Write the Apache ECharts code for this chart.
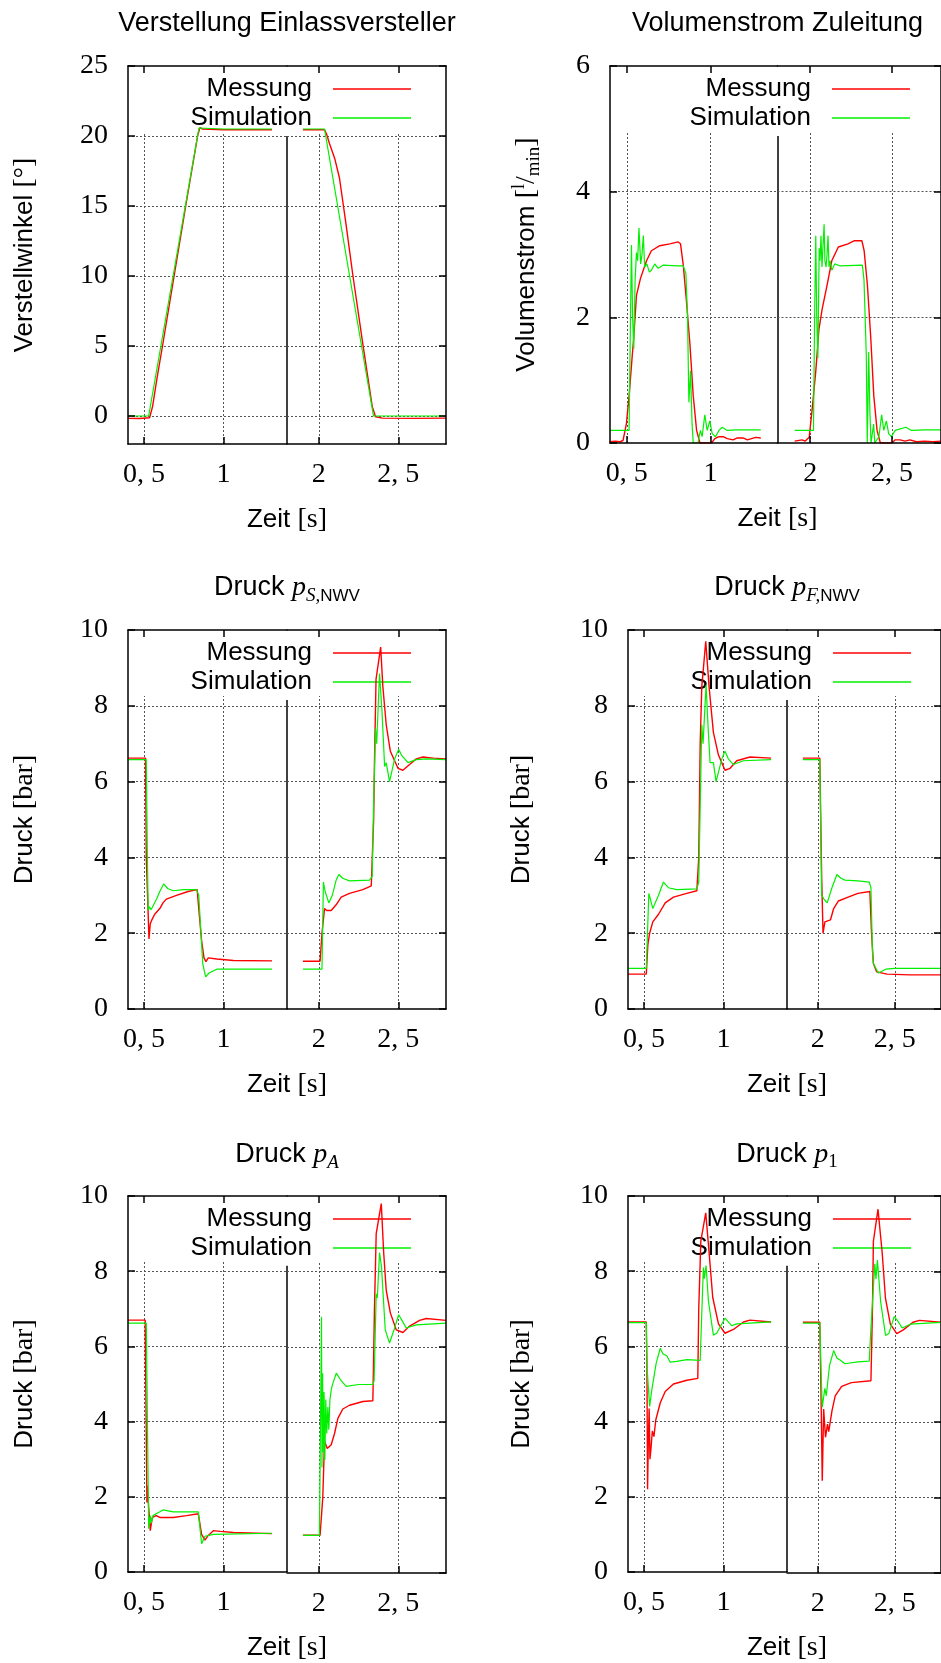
<!DOCTYPE html>
<html>
<head>
<meta charset="utf-8">
<title>Einlassversteller – Messung und Simulation</title>
<script src="https://cdn.jsdelivr.net/npm/echarts@6/dist/echarts.min.js"></script>
<style>
  html, body { margin: 0; padding: 0; background: #fff; }
  #chart { width: 941px; height: 1663px; }
</style>
</head>
<body>
<div id="chart"></div>
<script>
// ---------- tick values ----------
const xTicksLeft = [0.5, 1];
const xTicksRight = [2, 2.5];
const angleTicks = [0, 5, 10, 15, 20, 25];
const flowTicks = [0, 2, 4, 6];
const pressureTicks = [0, 2, 4, 6, 8, 10];

// ---------- measured / simulated curves, [Zeit s, Wert] ----------
const angleMeasured = [
  [0.40,-0.17],[0.47,-0.18],[0.536,-0.12],[0.555,0.7],[0.582,2.67],[0.617,5.0],[0.69,10.0],[0.763,15.0],
  [0.838,20.0],[0.852,20.6],[0.87,20.5],[1.0,20.45],[1.306,20.45],
  [1.90,20.45],[2.036,20.45],[2.05,20.1],[2.067,19.46],[2.10,18.4],[2.13,17.0],[2.17,13.8],[2.214,10.07],
  [2.277,5.14],[2.336,0.69],[2.357,-0.05],[2.40,-0.15],[2.60,-0.17],[2.80,-0.15]
];
const angleSimulated = [
  [0.40,0.0],[0.53,0.0],[0.846,20.57],[1.0,20.5],[1.306,20.5],
  [1.90,20.5],[2.036,20.5],[2.344,0.0],[2.80,0.0]
];

const flowMeasured = [
  [0.40,0.02],[0.43,0.03],[0.46,0.02],[0.478,0.04],[0.498,0.31],[0.514,0.75],[0.532,1.36],[0.542,1.69],
  [0.558,2.35],[0.582,2.62],[0.618,2.9],[0.647,3.06],[0.697,3.14],[0.757,3.17],[0.807,3.2],[0.821,3.17],
  [0.837,2.84],[0.857,2.24],[0.877,1.58],[0.897,0.75],[0.917,0.2],[0.937,0.0],[1.006,0.0],[1.026,0.07],
  [1.05,0.1],[1.076,0.1],[1.10,0.07],[1.135,0.05],[1.16,0.08],[1.195,0.08],[1.22,0.05],[1.245,0.07],
  [1.27,0.09],[1.30,0.08],
  [1.905,0.03],[1.95,0.05],[1.97,0.03],[1.994,0.09],[2.014,0.59],[2.034,1.14],[2.053,1.8],[2.073,2.13],
  [2.103,2.51],[2.132,2.9],[2.172,3.12],[2.231,3.17],[2.271,3.22],[2.316,3.22],[2.33,3.06],[2.35,2.51],
  [2.37,1.69],[2.389,0.75],[2.409,0.2],[2.429,0.0],[2.50,0.0],[2.52,0.05],[2.55,0.05],[2.58,0.03],
  [2.61,0.05],[2.65,0.02],[2.70,0.03],[2.75,0.02],[2.80,0.03]
];
const flowSimulated = [
  [0.40,0.2],[0.514,0.2],[0.52,1.5],[0.528,3.15],[0.535,2.0],[0.542,1.5],[0.55,2.6],[0.558,3.03],
  [0.565,2.9],[0.573,3.42],[0.583,2.85],[0.591,3.0],[0.599,3.3],[0.607,2.8],[0.62,2.85],[0.635,2.72],
  [0.647,2.75],[0.667,2.85],[0.687,2.78],[0.717,2.83],[0.80,2.82],[0.837,2.82],[0.853,2.7],[0.863,2.0],
  [0.871,0.65],[0.881,1.15],[0.89,0.3],[0.897,0.0],[0.925,0.0],[0.94,0.2],[0.95,0.1],[0.966,0.45],
  [0.98,0.2],[0.996,0.35],[1.01,0.15],[1.03,0.1],[1.05,0.2],[1.07,0.25],[1.10,0.2],[1.15,0.21],[1.30,0.21],
  [1.905,0.2],[2.02,0.2],[2.027,2.0],[2.034,3.3],[2.04,2.0],[2.047,1.35],[2.055,3.1],[2.06,2.9],
  [2.066,3.3],[2.072,2.8],[2.085,3.48],[2.09,2.9],[2.097,2.8],[2.103,3.0],[2.109,3.3],[2.115,2.8],
  [2.122,2.9],[2.132,2.75],[2.15,2.85],[2.18,2.82],[2.319,2.83],[2.329,2.6],[2.343,1.4],[2.349,0.0],
  [2.358,1.45],[2.365,0.5],[2.372,0.0],[2.388,0.3],[2.395,0.0],[2.42,0.1],[2.437,0.45],[2.45,0.2],
  [2.466,0.35],[2.48,0.15],[2.496,0.1],[2.52,0.2],[2.585,0.25],[2.62,0.2],[2.70,0.21],[2.80,0.21]
];

const pSMeasured = [
  [0.40,6.62],[0.51,6.62],[0.515,4.0],[0.532,1.85],[0.54,2.25],[0.55,2.35],[0.568,2.5],[0.60,2.65],
  [0.62,2.8],[0.641,2.9],[0.705,3.0],[0.778,3.1],[0.835,3.15],[0.848,2.5],[0.863,1.8],[0.878,1.35],
  [0.89,1.25],[0.905,1.35],[0.958,1.32],[1.063,1.28],[1.306,1.27],
  [1.90,1.26],[2.008,1.26],[2.02,2.0],[2.036,2.65],[2.05,2.6],[2.078,2.6],[2.109,2.75],[2.141,2.95],
  [2.193,3.05],[2.277,3.15],[2.33,3.25],[2.345,5.0],[2.351,6.7],[2.36,8.7],[2.372,8.7],[2.389,9.55],
  [2.403,8.5],[2.424,7.5],[2.45,6.8],[2.498,6.35],[2.529,6.3],[2.571,6.45],[2.613,6.6],[2.655,6.65],
  [2.72,6.62],[2.80,6.6]
];
const pSSimulated = [
  [0.40,6.58],[0.515,6.58],[0.522,4.0],[0.527,2.6],[0.535,2.7],[0.545,2.62],[0.557,2.62],[0.58,2.9],
  [0.60,3.1],[0.624,3.3],[0.65,3.18],[0.684,3.12],[0.75,3.15],[0.831,3.15],[0.845,3.0],[0.859,2.0],
  [0.87,1.2],[0.888,0.85],[0.91,0.95],[0.958,1.05],[1.306,1.05],
  [1.90,1.05],[2.02,1.05],[2.029,3.35],[2.04,3.1],[2.063,2.8],[2.085,3.0],[2.109,3.4],[2.126,3.55],
  [2.15,3.45],[2.193,3.38],[2.319,3.4],[2.336,3.5],[2.345,5.5],[2.357,7.4],[2.364,7.0],[2.382,8.85],
  [2.397,7.9],[2.414,6.4],[2.424,6.5],[2.445,6.0],[2.477,6.6],[2.502,6.85],[2.52,6.7],[2.561,6.5],
  [2.613,6.58],[2.676,6.6],[2.80,6.58]
];

const pFMeasured = [
  [0.40,0.92],[0.515,0.92],[0.525,1.7],[0.536,2.0],[0.556,2.3],[0.592,2.5],[0.634,2.8],[0.686,2.95],
  [0.77,3.05],[0.833,3.12],[0.845,4.0],[0.854,7.0],[0.864,8.5],[0.889,9.7],[0.91,8.5],[0.937,7.3],
  [0.969,6.7],[1.01,6.3],[1.042,6.35],[1.084,6.55],[1.167,6.65],[1.30,6.62],
  [1.903,6.62],[2.013,6.62],[2.025,3.5],[2.034,2.0],[2.046,2.3],[2.082,2.35],[2.103,2.65],[2.134,2.85],
  [2.197,2.95],[2.26,3.05],[2.338,3.1],[2.349,2.0],[2.361,1.2],[2.382,0.98],[2.45,0.92],[2.60,0.9],[2.80,0.9]
];
const pFSimulated = [
  [0.40,1.07],[0.515,1.07],[0.531,3.05],[0.541,2.9],[0.556,2.65],[0.592,3.0],[0.623,3.35],[0.654,3.2],
  [0.707,3.15],[0.833,3.17],[0.845,3.35],[0.864,7.5],[0.872,7.0],[0.891,8.55],[0.903,7.5],[0.916,6.5],
  [0.937,6.5],[0.954,6.0],[0.99,6.6],[1.01,6.8],[1.031,6.6],[1.063,6.45],[1.125,6.55],[1.30,6.58],
  [1.903,6.58],[2.013,6.58],[2.025,3.0],[2.034,3.05],[2.04,2.9],[2.061,2.8],[2.092,3.2],[2.124,3.55],
  [2.15,3.45],[2.176,3.4],[2.26,3.38],[2.334,3.35],[2.345,3.2],[2.355,1.5],[2.361,1.2],[2.393,0.95],
  [2.441,1.05],[2.50,1.07],[2.80,1.07]
];

const pAMeasured = [
  [0.40,6.7],[0.508,6.7],[0.51,5.8],[0.519,1.85],[0.521,2.3],[0.54,1.1],[0.553,1.45],[0.578,1.5],
  [0.60,1.45],[0.684,1.45],[0.768,1.5],[0.842,1.55],[0.863,1.0],[0.884,0.85],[0.90,0.95],[0.937,1.1],
  [0.98,1.08],[1.063,1.05],[1.306,1.02],
  [1.90,1.0],[2.008,1.0],[2.025,2.0],[2.036,3.5],[2.053,3.3],[2.078,3.4],[2.099,3.7],[2.12,4.1],
  [2.151,4.35],[2.193,4.45],[2.277,4.55],[2.34,4.57],[2.35,7.0],[2.361,9.0],[2.372,8.95],[2.393,9.8],
  [2.408,8.5],[2.424,7.5],[2.45,6.9],[2.487,6.45],[2.529,6.38],[2.571,6.55],[2.634,6.7],[2.676,6.75],[2.80,6.7]
];
const pASimulated = [
  [0.40,6.62],[0.515,6.62],[0.53,1.15],[0.54,1.5],[0.546,1.3],[0.557,1.5],[0.60,1.6],[0.62,1.65],
  [0.684,1.6],[0.842,1.6],[0.863,0.75],[0.884,0.95],[0.937,1.0],[1.306,1.03],
  [1.90,1.0],[2.004,1.0],[2.017,6.8],[2.02,2.8],[2.024,5.3],[2.028,3.2],[2.033,4.8],[2.038,3.0],
  [2.044,4.6],[2.05,3.7],[2.057,4.4],[2.063,3.8],[2.07,4.6],[2.08,4.9],[2.09,5.05],[2.099,5.0],
  [2.11,5.3],[2.12,5.35],[2.141,5.1],[2.172,4.95],[2.25,5.0],[2.34,5.0],[2.348,5.1],[2.361,7.4],
  [2.368,7.3],[2.382,8.5],[2.395,8.1],[2.403,7.5],[2.418,6.45],[2.429,6.5],[2.445,6.1],[2.477,6.5],
  [2.502,6.85],[2.523,6.7],[2.55,6.5],[2.613,6.58],[2.80,6.63]
];

const p1Measured = [
  [0.40,6.65],[0.515,6.65],[0.519,5.5],[0.523,2.2],[0.528,3.5],[0.533,4.35],[0.538,3.0],[0.544,3.25],
  [0.553,3.75],[0.563,3.6],[0.575,4.05],[0.582,4.0],[0.603,4.5],[0.634,4.8],[0.686,5.0],[0.77,5.1],
  [0.839,5.15],[0.845,7.0],[0.858,8.8],[0.889,9.55],[0.91,8.5],[0.933,7.3],[0.969,6.6],[1.01,6.35],
  [1.063,6.45],[1.126,6.65],[1.167,6.7],[1.30,6.65],
  [1.903,6.65],[2.013,6.65],[2.02,5.0],[2.029,2.45],[2.038,4.35],[2.05,3.6],[2.063,3.95],[2.071,3.75],
  [2.092,4.3],[2.113,4.7],[2.155,4.95],[2.218,5.05],[2.345,5.1],[2.355,7.0],[2.361,8.8],[2.391,9.65],
  [2.418,8.5],[2.439,7.3],[2.471,6.6],[2.513,6.35],[2.555,6.45],[2.618,6.65],[2.66,6.7],[2.80,6.65]
];
const p1Simulated = [
  [0.40,6.63],[0.515,6.63],[0.519,5.5],[0.536,4.4],[0.55,4.85],[0.56,4.8],[0.577,5.55],[0.585,5.5],
  [0.603,5.95],[0.62,5.8],[0.644,5.75],[0.665,5.58],[0.707,5.6],[0.77,5.65],[0.854,5.63],[0.865,7.0],
  [0.874,8.1],[0.88,7.8],[0.891,8.15],[0.906,7.2],[0.937,6.3],[0.958,6.35],[1.01,6.75],[1.02,6.75],
  [1.052,6.55],[1.084,6.6],[1.30,6.65],
  [1.903,6.63],[2.013,6.63],[2.02,5.5],[2.029,4.4],[2.046,4.9],[2.055,4.7],[2.076,5.5],[2.103,5.9],
  [2.124,5.7],[2.145,5.65],[2.176,5.55],[2.26,5.6],[2.334,5.62],[2.345,6.5],[2.37,8.2],[2.378,7.8],
  [2.387,8.3],[2.408,7.2],[2.44,6.3],[2.461,6.35],[2.496,6.8],[2.517,6.7],[2.548,6.5],[2.60,6.6],[2.80,6.65]
];

// ---------- fonts & styles ----------
const SANS = '"Liberation Sans", Arial, sans-serif';
const SERIF = '"Liberation Serif", "Times New Roman", serif';
const INK = '#000';
const RED = '#ff0000';
const GREEN = '#00f000';
const BORDER = { color: INK, width: 1.5 };
const KEY_DEPTH = 66;    // px below the top border kept free for the key
const BREAK_DEPTH = 70;  // px below the top border where the break line ends
const LEFT_RANGE = [0.4, 1.4];
const RIGHT_RANGE = [1.8, 2.8];

const rich = {
  t:  { fontFamily: SANS, fontSize: 26, fontStyle: 'normal', fontWeight: 'normal', color: INK, lineHeight: 34 },
  T:  { fontFamily: SANS, fontSize: 27, fontStyle: 'normal', fontWeight: 'normal', color: INK, lineHeight: 34 },
  m:  { fontFamily: SERIF, fontStyle: 'italic', fontSize: 28, fontWeight: 'normal', color: INK, lineHeight: 34 },
  r:  { fontFamily: SERIF, fontStyle: 'normal', fontSize: 28, fontWeight: 'normal', color: INK, lineHeight: 34 },
  ms: { fontFamily: SERIF, fontStyle: 'italic', fontSize: 19, fontWeight: 'normal', color: INK, lineHeight: 19, verticalAlign: 'bottom' },
  s:  { fontFamily: SANS, fontStyle: 'normal', fontSize: 17, fontWeight: 'normal', color: INK, lineHeight: 19, verticalAlign: 'bottom' },
  rs: { fontFamily: SERIF, fontStyle: 'normal', fontSize: 19, fontWeight: 'normal', color: INK, lineHeight: 19, verticalAlign: 'bottom' },
  up: { fontFamily: SERIF, fontStyle: 'normal', fontSize: 18, fontWeight: 'normal', color: INK, lineHeight: 18, verticalAlign: 'top' }
};

const panels = [
  { title: '{T|Verstellung Einlassversteller}', yName: '{t|Verstellwinkel }{r|[°]}',
    yMin: -2, yMax: 25, yTicks: angleTicks, measured: angleMeasured, simulated: angleSimulated,
    box: { left: 128, top: 66, height: 378, seg: 159 }, nameGap: 86, titleY: 24 },
  { title: '{T|Volumenstrom Zuleitung}', yName: '{t|Volumenstrom }{r|[}{up|l}{r|/}{rs|min}{r|]}',
    yMin: 0, yMax: 6, yTicks: flowTicks, measured: flowMeasured, simulated: flowSimulated,
    box: { left: 610, top: 66, height: 377, seg: 167.5 }, nameGap: 66, titleY: 24 },
  { title: '{T|Druck }{m|p}{ms|S,}{s|NWV}', yName: '{t|Druck }{r|[bar]}',
    yMin: 0, yMax: 10, yTicks: pressureTicks, measured: pSMeasured, simulated: pSSimulated,
    box: { left: 128, top: 630, height: 379, seg: 159 }, nameGap: 86, titleY: 588 },
  { title: '{T|Druck }{m|p}{ms|F,}{s|NWV}', yName: '{t|Druck }{r|[bar]}',
    yMin: 0, yMax: 10, yTicks: pressureTicks, measured: pFMeasured, simulated: pFSimulated,
    box: { left: 628, top: 630, height: 379, seg: 159 }, nameGap: 89, titleY: 588 },
  { title: '{T|Druck }{m|p}{ms|A}', yName: '{t|Druck }{r|[bar]}',
    yMin: 0, yMax: 10, yTicks: pressureTicks, measured: pAMeasured, simulated: pASimulated,
    box: { left: 128, top: 1196, height: 377, seg: 159 }, nameGap: 86, titleY: 1155 },
  { title: '{T|Druck }{m|p}{rs|1}', yName: '{t|Druck }{r|[bar]}',
    yMin: 0, yMax: 10, yTicks: pressureTicks, measured: p1Measured, simulated: p1Simulated,
    box: { left: 628, top: 1196, height: 377, seg: 159 }, nameGap: 89, titleY: 1155 }
];

const tickLabel = v => String(v).replace('.', ', ');
const inRange = (pts, r) => pts.filter(p => p[0] >= r[0] && p[0] <= r[1]);

const option = {
  animation: false,
  backgroundColor: '#fff',
  title: [], grid: [], xAxis: [], yAxis: [], series: [], graphic: []
};

panels.forEach((p, i) => {
  const b = p.box;
  const gL = 2 * i, gR = 2 * i + 1;
  option.grid.push({ left: b.left, top: b.top, width: b.seg, height: b.height, containLabel: false });
  option.grid.push({ left: b.left + b.seg, top: b.top, width: b.seg, height: b.height, containLabel: false });

  const xBase = (grid, range, ticks) => ({
    type: 'value', gridIndex: grid, min: range[0], max: range[1], z: 4,
    axisLine: { show: true, onZero: false, lineStyle: BORDER },
    axisTick: { show: true, inside: true, length: 7, customValues: ticks, lineStyle: BORDER },
    splitLine: { show: false }
  });
  const xStart = option.xAxis.length;
  // bottom axes with labels; the axis name is shifted to the centre of the whole panel
  option.xAxis.push(Object.assign(xBase(gL, LEFT_RANGE, xTicksLeft), {
    position: 'bottom',
    axisLabel: { show: true, customValues: xTicksLeft, formatter: tickLabel, margin: 17,
                 color: INK, fontFamily: SERIF, fontSize: 28 },
    name: '{t|Zeit }{r|[s]}', nameLocation: 'middle', nameGap: 59,
    nameTextStyle: { rich, padding: [0, 0, 0, b.seg] }
  }));
  option.xAxis.push(Object.assign(xBase(gL, LEFT_RANGE, xTicksLeft), { position: 'top', axisLabel: { show: false } }));
  option.xAxis.push(Object.assign(xBase(gR, RIGHT_RANGE, xTicksRight), {
    position: 'bottom',
    axisLabel: { show: true, customValues: xTicksRight, formatter: tickLabel, margin: 17,
                 color: INK, fontFamily: SERIF, fontSize: 28 }
  }));
  option.xAxis.push(Object.assign(xBase(gR, RIGHT_RANGE, xTicksRight), { position: 'top', axisLabel: { show: false } }));

  const yStart = option.yAxis.length;
  option.yAxis.push({
    type: 'value', gridIndex: gL, position: 'left', min: p.yMin, max: p.yMax, z: 4,
    axisLine: { show: true, onZero: false, lineStyle: BORDER },
    axisTick: { show: true, inside: true, length: 7, customValues: p.yTicks, lineStyle: BORDER },
    axisLabel: { show: true, customValues: p.yTicks, margin: 20, color: INK, fontFamily: SERIF, fontSize: 28 },
    splitLine: { show: false },
    name: p.yName, nameLocation: 'middle', nameRotate: 90, nameGap: p.nameGap,
    nameTextStyle: { rich }
  });
  option.yAxis.push({
    type: 'value', gridIndex: gR, position: 'right', min: p.yMin, max: p.yMax, z: 4,
    axisLine: { show: true, onZero: false, lineStyle: BORDER },
    axisTick: { show: true, inside: true, length: 7, customValues: p.yTicks, lineStyle: BORDER },
    axisLabel: { show: false },
    splitLine: { show: false }
  });

  // dotted grid, vertical lines stop below the key; solid break line between the segments
  const span = p.yMax - p.yMin;
  const yCut = p.yMax - span * KEY_DEPTH / b.height;
  const yBreak = p.yMax - span * BREAK_DEPTH / b.height;
  const guides = (xTicks, withBreak) => {
    const d = p.yTicks.filter(v => v > p.yMin && v < p.yMax).map(v => ({ yAxis: v }));
    xTicks.forEach(x => d.push([{ coord: [x, p.yMin] }, { coord: [x, yCut] }]));
    if (withBreak) {
      d.push([{ coord: [LEFT_RANGE[1], p.yMin], lineStyle: { color: INK, type: 'solid', width: 1.5 } },
              { coord: [LEFT_RANGE[1], yBreak] }]);
    }
    return d;
  };
  const guideSeries = (xi, yi, data) => ({
    type: 'line', xAxisIndex: xi, yAxisIndex: yi, data: [], silent: true, z: 1,
    markLine: { silent: true, z: 1, symbol: ['none', 'none'], label: { show: false },
                lineStyle: { color: '#555', type: [2, 2], width: 1 }, data }
  });
  option.series.push(guideSeries(xStart, yStart, guides(xTicksLeft, true)));
  option.series.push(guideSeries(xStart + 2, yStart + 1, guides(xTicksRight, false)));

  // curves
  const curve = (name, pts, xi, yi, color, width, z) => ({
    name, type: 'line', xAxisIndex: xi, yAxisIndex: yi, data: pts, showSymbol: false, symbol: 'none',
    lineStyle: { color, width }, itemStyle: { color }, z, silent: true
  });
  option.series.push(curve('Messung', inRange(p.measured, LEFT_RANGE), xStart, yStart, RED, 1.4, 2));
  option.series.push(curve('Simulation', inRange(p.simulated, LEFT_RANGE), xStart, yStart, GREEN, 1.2, 3));
  option.series.push(curve('Messung', inRange(p.measured, RIGHT_RANGE), xStart + 2, yStart + 1, RED, 1.4, 2));
  option.series.push(curve('Simulation', inRange(p.simulated, RIGHT_RANGE), xStart + 2, yStart + 1, GREEN, 1.2, 3));

  // title
  option.title.push({
    text: p.title, left: b.left + b.seg, top: p.titleY - 17, textAlign: 'center', padding: 0,
    textStyle: { rich, fontFamily: SANS, fontSize: 27, fontWeight: 'normal', color: INK }
  });

  // key
  const R = b.left + 2 * b.seg;
  const keyRow = (label, color, dy) => ([
    { type: 'text', x: R - 134, y: b.top + dy, z: 1, silent: true,
      style: { text: label, align: 'right', verticalAlign: 'middle', fill: INK,
               font: '26px ' + SANS } },
    { type: 'line', z: 1, silent: true,
      shape: { x1: R - 113, y1: b.top + dy, x2: R - 35, y2: b.top + dy },
      style: { stroke: color, lineWidth: 1.3 } }
  ]);
  option.graphic.push(...keyRow('Messung', RED, 23), ...keyRow('Simulation', GREEN, 52));
});

const chart = echarts.init(document.getElementById('chart'), null, { renderer: 'canvas' });
chart.setOption(option);
</script>
</body>
</html>
